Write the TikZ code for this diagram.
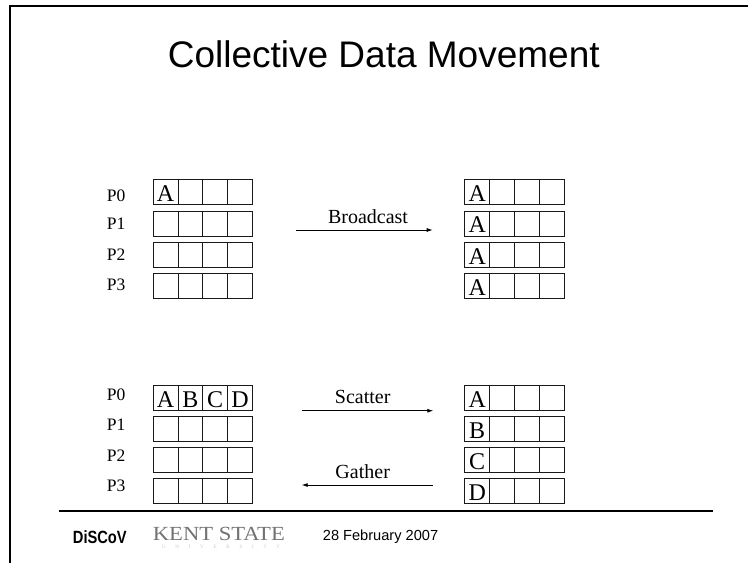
\documentclass[tikz,border=0pt]{standalone}
\usepackage{fontspec}
\setmainfont{Liberation Serif}
\newfontfamily\arialfont{Liberation Sans}
\usetikzlibrary{arrows.meta}
\begin{document}
\begin{tikzpicture}[x=1pt,y=-1pt,
  cell/.style={draw=black!90, line width=1pt, minimum width=24.8pt, minimum height=25pt, inner sep=0pt, anchor=north west},
  celltext/.style={inner sep=0pt, yshift=-1.2pt, font=\fontsize{24}{24}\selectfont},
  plabel/.style={anchor=base west, inner sep=0pt, font=\fontsize{17.5}{17.5}\selectfont},
  oplabel/.style={anchor=base, inner sep=0pt, font=\fontsize{20}{20}\selectfont},
  flow/.style={-{Latex[length=6pt,width=4pt]}, line width=0.8pt},
  rule/.style={line width=2.2pt}
]
\useasboundingbox (0,0) rectangle (748,563);
% frame
\draw[rule, line join=miter] (748,6.2) -- (10.2,6.2) -- (10.2,563);
% title
\node[anchor=base, inner sep=0pt, font=\arialfont\fontsize{37}{40}\selectfont] (title) at (383.8,67.7) {Collective Data Movement};
% grids
\foreach \r in {0,...,3} {
  \foreach \c in {0,...,3} {
    \node[cell] (tl-\r-\c) at ({152.7+24.8*\c},{179.3+31.3*\r}) {};
    \node[cell] (tr-\r-\c) at ({464.3+25*\c},{179.3+31.3*\r}) {};
    \node[cell] (bl-\r-\c) at ({152.7+24.8*\c},{385+31.1*\r}) {};
    \node[cell] (br-\r-\c) at ({464.3+25*\c},{385+31.1*\r}) {};
  }
}
% letters
\node[celltext] (tlA) at (tl-0-0) {A};
\foreach \r in {0,...,3} { \node[celltext] (trA-\r) at (tr-\r-0) {A}; }
\foreach \c/\L in {0/A,1/B,2/C,3/D} {
  \node[celltext] (blL-\c) at (bl-0-\c) {\L};
  \node[celltext] (brL-\c) at (br-\c-0) {\L};
}
% process labels
\foreach \r/\yy in {0/201.7,1/229.3,2/260,3/290.7} { \node[plabel] (pt-\r) at (106.7,\yy) {P\r}; }
\foreach \r/\yy in {0/400,1/430,2/461,3/491.7} { \node[plabel] (pb-\r) at (106.7,\yy) {P\r}; }
% arrows
\coordinate (bcs) at (296,230);   \coordinate (bce) at (432.7,230);
\coordinate (scs) at (301.7,410.7); \coordinate (sce) at (433.3,410.7);
\coordinate (gas) at (432.7,485); \coordinate (gae) at (301.7,485);
\draw[flow] (bcs) -- (bce);
\draw[flow] (scs) -- (sce);
\draw[flow] (gas) -- (gae);
\node[oplabel] (bclab) at (368,223.3) {Broadcast};
\node[oplabel] (sclab) at (362.7,403.3) {Scatter};
\node[oplabel] (galab) at (362.7,478.3) {Gather};
% footer
\draw[rule, line width=2pt] (59.3,510.7) -- (713.3,510.7);
\node[anchor=base west, inner sep=0pt, font=\arialfont\bfseries\fontsize{17.7}{18}\selectfont] (discov) at (72.7,543.3) {\scalebox{0.83}[1]{DiSCoV}};
\node[anchor=base west, inner sep=0pt, text=black!55, font=\fontsize{20}{20}\selectfont] (kent) at (152.7,540.7) {\scalebox{1.13}[1]{KENT STATE}};
\node[anchor=base, inner sep=0pt, text=black!22, font=\fontsize{5}{5}\selectfont] (univ) at (221,548.5) {\makebox[118pt][s]{U\hfill N\hfill I\hfill V\hfill E\hfill R\hfill S\hfill I\hfill T\hfill Y}};
\node[anchor=base west, inner sep=0pt, font=\arialfont\fontsize{14.6}{15}\selectfont] (date) at (322.7,540) {28 February 2007};
\end{tikzpicture}
\end{document}
